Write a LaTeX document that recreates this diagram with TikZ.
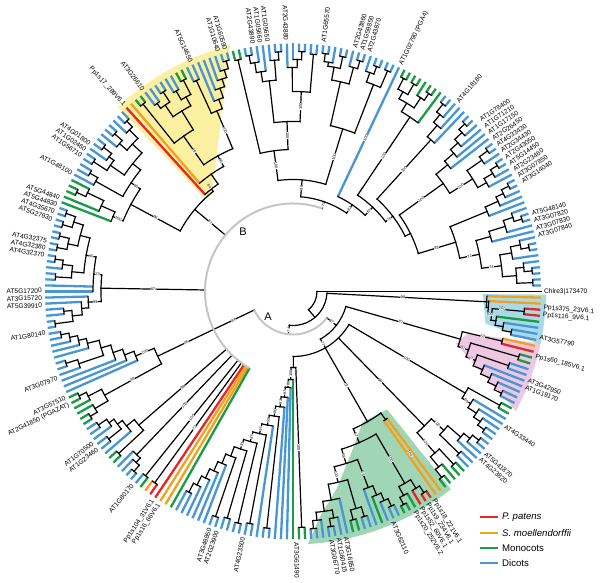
\documentclass[tikz,border=0pt]{standalone}
\usepackage{fontspec}
\setmainfont{Liberation Sans}
\setsansfont{Liberation Sans}
\definecolor{cR}{RGB}{232,38,40}
\definecolor{cO}{RGB}{242,160,30}
\definecolor{cG}{RGB}{26,156,70}
\definecolor{cB}{RGB}{72,150,212}
\definecolor{wYel}{RGB}{250,240,160}
\definecolor{wGrn}{RGB}{160,214,182}
\definecolor{wPnk}{RGB}{238,200,226}
\definecolor{wBlu}{RGB}{168,218,232}
\def\D{1.40625}
\newcommand\Nd[4]{\draw[br] ({#1*\D}:#3pt) arc[start angle={#1*\D}, end angle={#2*\D}, radius=#3pt];
  \draw[br] ({(#1+#2)/2*\D}:#4pt) -- ({(#1+#2)/2*\D}:#3pt);}
\newcommand\bs[3]{\pgfmathsetmacro\ba{#1*\D}\pgfmathsetmacro\brot{ifthenelse(cos(\ba)>=0,\ba,\ba+180)}%
  \node[bsl,rotate=\brot] at (\ba:#2pt) {#3};}
\newcommand\gl[2]{\pgfmathtruncatemacro\gside{cos(#1)>=0}\pgfmathsetmacro\grot{ifthenelse(\gside==1,#1,#1+180)}%
  \ifnum\gside=1 \def\ganc{west}\def\galn{left}\else\def\ganc{east}\def\galn{right}\fi
  \node[gene,anchor=\ganc,align=\galn,rotate=\grot] at (#1:251pt) {#2};}
\begin{document}
\begin{tikzpicture}[x=1pt,y=1pt,
  br/.style={line width=1.2pt,line cap=rect,black},
  lf/.style={line width=2.3pt},
  grayarc/.style={line width=2pt,gray!45},
  bsl/.style={font=\fontsize{3.9}{4}\selectfont,fill=white,inner sep=0.2pt},
  gene/.style={font=\fontsize{6.6}{7.5}\selectfont,inner sep=0pt,text=black}]
\useasboundingbox (0,0) rectangle (600,583);
\fill[white] (0,0) rectangle (600,583);
\begin{scope}[shift={(293,291.5)}]
% ---- shaded clades
\fill[wYel] (130:126pt) -- (133.5:129pt) -- (133.5:254pt) arc[start angle=133.5,end angle=104.4,radius=254pt] -- (125:138pt) -- cycle;
\fill[wGrn] (-61.9:148pt) -- (-51.4:151pt) -- (-51.4:253pt) arc[start angle=-51.4,end angle=-86.6,radius=253pt] -- (-83.2:227pt) -- (-77.5:202pt) -- (-68.4:166pt) -- cycle;
\fill[wPnk] (-17.8:171pt) -- (-13.4:180pt) -- (-11.9:253pt) arc[start angle=-11.9,end angle=-28.2,radius=253pt] -- cycle;
\fill[wBlu] (-0.8:190pt) -- (-0.7:253pt) arc[start angle=-0.7,end angle=-12.1,radius=253pt] -- (-9.4:195pt) -- cycle;
% ---- leaves (terminal branches)
\foreach \i/\cc/\q in {1/cB/240,2/cB/240,3/cB/240,4/cB/240,5/cB/232,6/cB/222,7/cB/240,8/cB/240,9/cB/232,10/cB/205,11/cB/222,12/cB/240,13/cB/240,14/cB/232,15/cB/210,16/cB/224,17/cB/232,18/cB/240,19/cB/240,
20/cB/222,21/cB/232,22/cB/240,23/cB/240,24/cB/230,25/cB/240,26/cB/240,27/cB/200,28/cB/212,29/cB/222,30/cB/232,31/cB/240,32/cB/240,
33/cB/205,34/cB/220,35/cB/230,36/cB/240,37/cB/240,
38/cG/210,39/cG/240,40/cG/240,41/cG/232,42/cG/240,43/cG/240,44/cG/240,45/cG/240,
46/cB/105,
47/cB/240,48/cB/240,49/cB/240,50/cB/240,51/cB/232,52/cB/240,53/cB/240,54/cB/232,55/cB/240,56/cB/240,57/cB/232,58/cB/240,59/cB/240,
60/cB/238,61/cB/238,62/cB/240,63/cB/240,64/cB/232,65/cB/224,66/cB/240,67/cB/240,68/cB/232,69/cB/222,70/cB/232,71/cB/240,72/cB/240,73/cG/238,74/cG/238,
75/cB/240,76/cB/240,77/cB/232,78/cB/224,79/cB/216,80/cB/206,81/cB/232,82/cB/232,83/cG/238,84/cG/238,85/cB/232,86/cB/232,87/cB/238,88/cB/238,89/cB/232,90/cB/232,91/cG/240,92/cG/240,93/cO/143,94/cR/131,
95/cB/238,96/cB/238,97/cB/230,98/cB/238,99/cB/238,100/cB/228,101/cB/238,102/cB/238,103/cB/228,104/cB/238,105/cB/238,106/cB/235,107/cB/235,108/cB/226,109/cG/228,110/cG/238,111/cG/238,112/cG/210,113/cG/195,
114/cB/240,115/cB/240,116/cB/240,117/cB/240,118/cB/240,119/cB/240,120/cB/240,121/cB/240,122/cB/240,123/cB/240,124/cB/232,125/cB/238,126/cB/238,127/cB/200,128/cB/200,129/cB/205,130/cB/212,131/cB/230,132/cB/230,133/cB/240,134/cB/240,
135/cB/236,136/cB/236,137/cB/228,138/cB/220,139/cB/212,140/cB/238,141/cB/238,142/cB/226,143/cB/190,144/cB/180,145/cB/170,146/cG/238,147/cG/238,148/cG/230,149/cG/230,150/cG/238,151/cG/238,
152/cB/236,153/cB/236,154/cB/226,155/cB/236,156/cB/236,157/cB/214,158/cG/238,159/cG/238,
160/cB/226,161/cB/232,162/cB/240,163/cB/240,164/cB/236,165/cG/236,166/cO/236,167/cR/236,168/cR/88,169/cO/88,170/cO/88,171/cG/88,
172/cB/226,173/cB/226,174/cB/216,175/cB/206,176/cB/196,177/cB/186,178/cB/238,179/cB/238,180/cB/236,181/cB/236,182/cB/238,183/cB/238,184/cB/236,185/cB/236,186/cB/136,187/cB/238,188/cB/238,189/cB/116,190/cB/106,191/cB/96,192/cG/88,193/cG/236,194/cG/236,
195/cB/238,196/cB/238,197/cB/230,198/cB/238,199/cB/238,200/cB/230,201/cB/212,202/cG/236,203/cG/236,204/cB/236,205/cB/236,206/cB/210,207/cG/220,208/cB/228,209/cB/236,210/cB/236,211/cG/240,212/cG/240,213/cG/232,214/cR/232,215/cR/240,216/cR/240,217/cO/158,218/cO/158,
219/cG/238,220/cG/238,221/cG/228,222/cG/236,223/cG/236,224/cB/232,225/cB/232,226/cB/222,227/cB/230,228/cB/238,229/cB/238,
230/cB/236,231/cB/236,232/cB/228,233/cB/220,234/cB/210,235/cG/236,236/cG/236,
237/cB/232,238/cB/232,239/cB/224,240/cB/215,241/cB/205,242/cB/228,243/cB/228,244/cG/235,245/cG/235,246/cR/215,247/cO/215,
248/cB/222,249/cB/222,250/cB/213,251/cG/205,252/cR/232,253/cR/232,254/cO/196,255/cO/194}
  {\draw[lf,\cc] ({\i*\D}:\q pt) -- ({\i*\D}:248pt);}
% ---- right clade
\Nd{1}{2}{240}{224}\Nd{3}{4}{240}{232}\Nd{3.5}{5}{232}{224}\Nd{1.5}{4.25}{224}{210}
\Nd{7}{8}{240}{232}\Nd{7.5}{9}{232}{222}\Nd{6}{8.25}{222}{210}\Nd{2.875}{7.125}{210}{190}
\Nd{12}{13}{240}{232}\Nd{12.5}{14}{232}{222}\Nd{11}{13.25}{222}{205}\Nd{10}{12.125}{205}{190}
\Nd{5}{11.0625}{190}{170}
\Nd{18}{19}{240}{232}\Nd{17}{18.5}{232}{224}\Nd{16}{17.75}{224}{210}\Nd{15}{16.875}{210}{170}
\Nd{8.03}{15.94}{170}{131}
% AT1G78400 clade
\Nd{31}{32}{240}{232}\Nd{30}{31.5}{232}{222}\Nd{29}{30.75}{222}{212}\Nd{28}{29.875}{212}{200}\Nd{27}{28.94}{200}{185}
\Nd{25}{26}{240}{230}\Nd{24}{25.5}{230}{212}\Nd{22}{23}{240}{232}\Nd{21}{22.5}{232}{222}\Nd{20}{21.75}{222}{212}
\Nd{20.875}{24.75}{212}{185}\Nd{22.81}{27.97}{185}{131}
\Nd{11.99}{25.39}{131}{125}
% AT4G18180
\Nd{36}{37}{240}{230}\Nd{35}{36.5}{230}{220}\Nd{34}{35.75}{220}{205}\Nd{33}{34.875}{205}{125}
\Nd{18.69}{33.94}{125}{116}
% green group
\Nd{44}{45}{240}{228}\Nd{42}{43}{240}{228}\Nd{42.5}{44.5}{228}{220}\Nd{39}{40}{240}{232}\Nd{39.5}{41}{232}{220}
\Nd{40.25}{43.5}{220}{210}\Nd{38}{41.875}{210}{116}
\Nd{26.31}{39.94}{116}{105}
\Nd{33.13}{46}{105}{95}
% top right
\Nd{58}{59}{240}{232}\Nd{57}{58.5}{232}{228}\Nd{55}{56}{240}{228}\Nd{55.5}{57.75}{228}{215}
\Nd{52}{53}{240}{232}\Nd{52.5}{54}{232}{215}\Nd{53.25}{56.625}{215}{170}
\Nd{49}{50}{240}{232}\Nd{49.5}{51}{232}{222}\Nd{47}{48}{240}{222}\Nd{47.5}{50.25}{222}{170}
\Nd{48.875}{54.94}{170}{112}
% top left
\Nd{73}{74}{238}{142}\Nd{71}{72}{240}{232}\Nd{70}{71.5}{232}{222}\Nd{69}{70.75}{222}{212}
\Nd{66}{67}{240}{232}\Nd{66.5}{68}{232}{212}\Nd{67.25}{69.875}{212}{170}
\Nd{62}{63}{240}{232}\Nd{62.5}{64}{232}{224}\Nd{63.25}{65}{224}{200}\Nd{60}{61}{238}{200}
\Nd{60.5}{64.125}{200}{170}\Nd{62.31}{68.56}{170}{142}\Nd{65.44}{73.5}{142}{112}
\Nd{51.91}{69.47}{112}{95}
\Nd{39.56}{60.69}{95}{88}
% yellow clade
\Nd{75}{76}{240}{232}\Nd{75.5}{77}{232}{224}\Nd{76.25}{78}{224}{216}\Nd{77.125}{79}{216}{206}
\Nd{78.06}{80}{206}{196}\Nd{81}{82}{232}{196}\Nd{79.03}{81.5}{196}{155}
\Nd{91}{92}{240}{190}\Nd{89}{90}{232}{226}\Nd{87}{88}{238}{226}\Nd{87.5}{89.5}{226}{212}
\Nd{85}{86}{232}{222}\Nd{83}{84}{238}{222}\Nd{83.5}{85.5}{222}{212}\Nd{84.5}{88.5}{212}{190}
\Nd{86.5}{91.5}{190}{155}\Nd{80.27}{89}{155}{143}\Nd{84.63}{93}{143}{131}\Nd{88.82}{94}{131}{128}
% upper left
\Nd{95}{96}{238}{230}\Nd{95.5}{97}{230}{218}\Nd{98}{99}{238}{228}\Nd{98.5}{100}{228}{218}
\Nd{96.25}{99.25}{218}{205}\Nd{101}{102}{238}{228}\Nd{101.5}{103}{228}{222}\Nd{104}{105}{238}{222}
\Nd{102.25}{104.5}{222}{205}\Nd{97.75}{103.375}{205}{195}\Nd{106}{107}{235}{226}\Nd{106.5}{108}{226}{195}
\Nd{100.56}{107.25}{195}{184}
\Nd{110}{111}{238}{228}\Nd{109}{110.5}{228}{210}\Nd{109.75}{112}{210}{195}\Nd{110.875}{113}{195}{184}
\Nd{103.91}{111.94}{184}{128}
\Nd{91.41}{107.92}{128}{88}
% left
\Nd{114}{115}{240}{230}\Nd{116}{117}{240}{230}\Nd{114.5}{116.5}{230}{220}\Nd{118}{119}{240}{230}
\Nd{120}{121}{240}{230}\Nd{118.5}{120.5}{230}{220}\Nd{115.5}{119.5}{220}{210}
\Nd{122}{123}{240}{232}\Nd{122.5}{124}{232}{222}\Nd{125}{126}{238}{222}\Nd{123.25}{125.5}{222}{210}
\Nd{117.5}{124.375}{210}{200}\Nd{120.94}{128}{200}{192}
\Nd{133}{134}{240}{222}\Nd{131}{132}{230}{222}\Nd{131.5}{133.5}{222}{212}\Nd{130}{132.5}{212}{205}
\Nd{129}{131.25}{205}{192}
\Nd{124.47}{130.125}{192}{88}
% lower left (A side)
\Nd{135}{136}{236}{228}\Nd{135.5}{137}{228}{220}\Nd{136.25}{138}{220}{212}\Nd{137.125}{139}{212}{200}
\Nd{140}{141}{238}{226}\Nd{140.5}{142}{226}{200}\Nd{138.06}{141.25}{200}{190}\Nd{139.66}{143}{190}{180}
\Nd{141.33}{144}{180}{170}\Nd{142.67}{145}{170}{150}
\Nd{146}{147}{238}{230}\Nd{146.5}{148}{230}{215}\Nd{150}{151}{238}{230}\Nd{149}{150.5}{230}{215}
\Nd{147.25}{149.75}{215}{150}
\Nd{143.83}{148.5}{150}{43}
% B lower end
\Nd{152}{153}{236}{226}\Nd{152.5}{154}{226}{220}\Nd{155}{156}{236}{220}\Nd{153.25}{155.5}{220}{214}
\Nd{154.375}{157}{214}{204}\Nd{158}{159}{238}{204}\Nd{155.69}{158.5}{204}{88}
\Nd{162}{163}{240}{232}\Nd{161}{162.5}{232}{226}\Nd{160}{161.75}{226}{88}
\Nd{164}{165}{236}{88}\Nd{166}{167}{236}{88}
% bottom ladder
\Nd{178}{179}{238}{176}\Nd{180}{181}{236}{166}\Nd{182}{183}{238}{156}\Nd{184}{185}{236}{146}\Nd{187}{188}{238}{126}
\Nd{172}{173}{226}{216}\Nd{172.5}{174}{216}{206}\Nd{173.25}{175}{206}{196}\Nd{174.125}{176}{196}{186}
\Nd{175.06}{177}{186}{176}\Nd{176.03}{178.5}{176}{166}\Nd{177.27}{180.5}{166}{156}\Nd{178.88}{182.5}{156}{146}
\Nd{180.69}{184.5}{146}{136}\Nd{182.6}{186}{136}{126}\Nd{184.3}{187.5}{126}{116}\Nd{185.9}{189}{116}{106}
\Nd{187.45}{190}{106}{96}\Nd{188.73}{191}{96}{88}\Nd{189.86}{192}{88}{76}
\Nd{193}{194}{236}{76}\Nd{190.93}{193.5}{76}{65}
% green shaded clade
\Nd{195}{196}{238}{230}\Nd{195.5}{197}{230}{222}\Nd{198}{199}{238}{230}\Nd{198.5}{200}{230}{222}
\Nd{196.25}{199.25}{222}{212}\Nd{197.75}{201}{212}{196}\Nd{202}{203}{236}{226}\Nd{204}{205}{236}{226}
\Nd{202.5}{204.5}{226}{196}\Nd{199.375}{203.5}{196}{180}
\Nd{209}{210}{236}{228}\Nd{208}{209.5}{228}{220}\Nd{207}{208.75}{220}{210}\Nd{206}{207.875}{210}{180}
\Nd{201.44}{206.94}{180}{165}
\Nd{211}{212}{240}{232}\Nd{211.5}{213}{232}{222}\Nd{215}{216}{240}{232}\Nd{214}{215.5}{232}{222}
\Nd{212.25}{214.75}{222}{165}\Nd{204.19}{213.5}{165}{150}\Nd{217}{218}{158}{150}
\Nd{208.84}{217.5}{150}{65}
% AT5G41870 clade
\Nd{219}{220}{238}{228}\Nd{219.5}{221}{228}{215}\Nd{222}{223}{236}{215}\Nd{220.25}{222.5}{215}{188}
\Nd{224}{225}{232}{205}\Nd{228}{229}{238}{230}\Nd{227}{228.5}{230}{222}\Nd{226}{227.75}{222}{205}
\Nd{224.5}{226.875}{205}{188}\Nd{221.375}{225.69}{188}{65}
% AT4G33440 clade
\Nd{230}{231}{236}{228}\Nd{230.5}{232}{228}{220}\Nd{231.25}{233}{220}{210}\Nd{232.125}{234}{210}{200}
\Nd{235}{236}{236}{200}\Nd{233.06}{235.5}{200}{65}
\Nd{192.21}{234.28}{65}{55}
% pink clade
\Nd{237}{238}{232}{224}\Nd{237.5}{239}{224}{215}\Nd{238.25}{240}{215}{205}\Nd{239.125}{241}{205}{195}
\Nd{242}{243}{228}{195}\Nd{240.06}{242.5}{195}{185}\Nd{244}{245}{235}{185}\Nd{241.28}{244.5}{185}{174}
\Nd{246}{247}{215}{174}\Nd{242.89}{246.5}{174}{55}
\Nd{213.25}{244.7}{55}{43}
% blue shaded clade
\Nd{248}{249}{222}{213}\Nd{248.5}{250}{213}{205}\Nd{249.25}{251}{205}{200}\Nd{252}{253}{232}{200}
\Nd{250.125}{252.5}{200}{196}\Nd{251.31}{254}{196}{194}\Nd{252.66}{255}{194}{34}
% backbone
\Nd{187.57}{253.83}{34}{24}
\draw[br] ({220.7*\D}:24pt) arc[start angle={220.7*\D},end angle=360,radius=24pt];
\draw[br] (0:24pt) -- (0:248pt);
\draw[br] ({187.57*\D}:34pt) -- ({187.57*\D}:43pt);
\draw[grayarc] ({146.17*\D}:43pt) arc[start angle={146.17*\D},end angle={228.97*\D},radius=43pt];
\draw[grayarc] ({50.13*\D}:88pt) arc[start angle={50.13*\D},end angle={171*\D},radius=88pt];
% ---- bootstrap values
\bs{253.83}{110}{98}\bs{244.7}{112}{87}\bs{234.28}{132}{100}\bs{223.53}{125}{99}\bs{213.17}{108}{51}
\bs{217.5}{200}{100}\bs{213.25}{60}{77}\bs{228.97}{49}{87}\bs{187.57}{38.5}{74}\bs{146.17}{66}{84}
\bs{146.17}{118}{95}\bs{148.5}{183}{99}\bs{143.83}{160}{100}\bs{127.3}{140}{87}\bs{99.67}{108}{87}
\bs{107.92}{156}{96}\bs{157.09}{146}{98}\bs{160.875}{157}{100}\bs{164.5}{162}{100}\bs{166.5}{168}{73}
\bs{193.5}{156}{100}\bs{11.99}{150}{83}\bs{33.94}{165}{100}\bs{39.94}{163}{100}\bs{25.39}{158}{100}
\bs{46}{170}{100}\bs{69.47}{127}{100}\bs{51.91}{141}{100}\bs{89}{172}{99}\bs{80.27}{175}{100}
\bs{50.13}{91.5}{77}\bs{39.56}{100}{82}\bs{33.13}{110.5}{67}\bs{26.31}{120.5}{70}\bs{60.69}{104}{98}
\bs{190.93}{82}{100}\bs{189.86}{92}{88}\bs{188.73}{101}{87}\bs{187.45}{111}{82}\bs{185.9}{121}{80}
\bs{184.3}{131}{92}\bs{182.6}{141}{97}\bs{180.69}{151}{87}\bs{178.88}{161}{81}
\bs{204.19}{172}{58}\bs{208.84}{157}{57}\bs{201.44}{188}{100}\bs{213.5}{194}{100}\bs{206.94}{195}{98}
\bs{225.69}{196}{100}\bs{221.375}{201}{100}\bs{233.06}{205}{99}\bs{242.89}{179}{92}\bs{241.28}{190}{87}
\bs{246.5}{195}{53}\bs{251.31}{198}{100}\bs{252.66}{210}{100}\bs{8.03}{180}{72}\bs{5}{200}{74}
\bs{22.81}{198}{100}\bs{62.31}{185}{100}\bs{65.44}{156}{100}\bs{84.63}{149}{86}\bs{91.41}{134}{84}
\bs{120.94}{205}{85}\bs{124.47}{196}{73}\bs{130.125}{198}{99}\bs{103.91}{189}{80}\bs{111.94}{189}{100}
% ---- gene labels
\gl{0}{Chlre3|173470}
\gl{-4.6}{Pp1s375\_23V6.1\\Pp1s116\_9V6.1}
\gl{-10.6}{AT3G57790}
\gl{-15}{Pp1s60\_185V6.1}
\gl{-21.5}{AT3G42950\\AT1G19170}
\gl{-32.5}{AT4G33440}
\gl{-41}{AT5G41870\\AT4G23820}
\gl{-58.5}{Pp1s18\_221V6.1\\Pp1s9\_234V6.1\\Pp1s52\_60V6.1\\Pp1s20\_252V6.2}
\gl{-66.5}{AT3G62110}
\gl{-79.5}{AT3G16850\\AT1G60415\\AT3G06770}
\gl{-89.2}{AT3G61490}
\gl{258.5}{AT4G23500}
\gl{251.5}{AT3G48850\\AT2G23900}
\gl{237}{Pp1s104\_31V6.1\\Pp1s16\_66V6.1}
\gl{230.3}{AT1G80170}
\gl{218}{AT1G70500\\AT1G23460}
\gl{206}{AT3G57510\\AT2G41850 (PGAZAT)}
\gl{200.2}{AT3G07970}
\gl{189.5}{AT1G80140}
\gl{181.5}{AT5G17200\\AT3G15720\\AT5G39910}
\gl{170}{AT4G32375\\AT4G32380\\AT4G32370}
\gl{160.7}{AT5G44840\\AT5G44830\\AT4G35670\\AT5G27930}
\gl{151.8}{AT1G48100}
\gl{145.6}{AT4G01800\\AT1G02460\\AT1G56710}
\gl{132.2}{Pp1s17\_289V6.1}
\gl{126.6}{AT3G26610}
\gl{114}{AT5G14650}
\gl{106.5}{AT1G60590\\AT1G10640}
\gl{97.5}{AT1G05650\\AT1G05660\\AT2G43890}
\gl{91.6}{AT2G43880}
\gl{83}{AT1G65570}
\gl{74}{AT2G43860\\AT1G59850\\AT2G43870}
\gl{64.5}{AT1G02790 (PGA4)}
\gl{49}{AT4G18180}
\gl{34}{AT1G78400\\AT1G71210\\AT1G17150\\AT2G26450\\AT4G33430\\AT2G34430\\AT2G43050\\AT5G14450\\AT2G23460\\AT3G07850\\AT3G14040}
\gl{15.5}{AT5G48140\\AT3G07820\\AT3G07830\\AT3G07840}
\end{scope}
% ---- clade letters
\node[font=\fontsize{11}{12}\selectfont] (lblA) at (268,266) {A};
\node[font=\fontsize{11}{12}\selectfont] (lblB) at (243,351) {B};
% ---- legend
\foreach \yy/\cc/\tt in {66/cR/{\itshape P. patens},50/cO/{\itshape S. moellendorffii},35/cG/Monocots,20/cB/Dicots}
 {\draw[\cc,line width=2.4pt] (480,\yy) -- (498,\yy);
  \node[anchor=west,font=\fontsize{9.6}{10}\selectfont,inner sep=0pt] at (502,\yy) {\tt};}
\end{tikzpicture}
\end{document}
